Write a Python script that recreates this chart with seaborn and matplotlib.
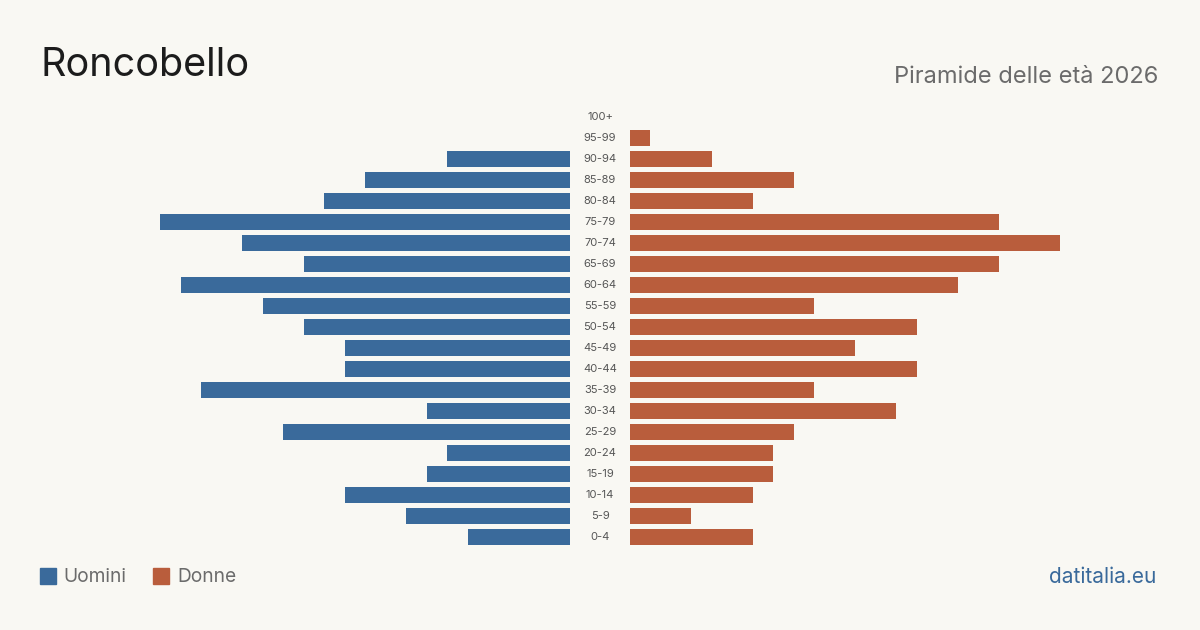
import pandas as pd
import seaborn as sns
import matplotlib.pyplot as plt

# age classes from top to bottom
eta = ['100+', '95-99', '90-94', '85-89', '80-84', '75-79', '70-74', '65-69', '60-64',
       '55-59', '50-54', '45-49', '40-44', '35-39', '30-34', '25-29', '20-24', '15-19',
       '10-14', '5-9', '0-4']
uomini = [0, 0, 6, 10, 12, 20, 16, 13, 19, 15, 13, 11, 11, 18, 7, 14, 6, 7, 11, 8, 5]
donne = [0, 1, 4, 8, 6, 18, 21, 18, 16, 9, 14, 11, 14, 9, 13, 8, 7, 7, 6, 3, 6]

df = pd.DataFrame({'Eta': eta, 'Uomini': uomini, 'Donne': donne})

bg = '#f9f8f3'
blue = '#3a6a9b'
orange = '#b95d3c'

sns.set_theme(style='white')
plt.rcParams['font.family'] = ['Inter', 'DejaVu Sans']

fig = plt.figure(figsize=(12, 6.3), dpi=100, facecolor=bg)

# two half-axes, same scale
ax_l = fig.add_axes([140 / 1200, 0.131, 430 / 1200, 0.70])
ax_r = fig.add_axes([630 / 1200, 0.131, 430 / 1200, 0.70])

sns.barplot(data=df, y='Eta', x='Uomini', orient='h', color=blue, width=0.8,
            saturation=1, linewidth=0, ax=ax_l)
sns.barplot(data=df, y='Eta', x='Donne', orient='h', color=orange, width=0.8,
            saturation=1, linewidth=0, ax=ax_r)

xmax = 21
ax_l.set_xlim(xmax, 0)
ax_r.set_xlim(0, xmax)
for ax in (ax_l, ax_r):
    ax.set_facecolor(bg)
    ax.set_ylim(len(eta) - 0.5, -0.5)
    ax.set_xlabel('')
    ax.set_ylabel('')
    ax.set_xticks([])
    ax.set_yticks([])
    sns.despine(ax=ax, left=True, bottom=True)

# age labels in the gap between the two sides
for i, lab in enumerate(eta):
    ax_r.text(-0.5 * 60 / 430 * xmax, i, lab, ha='center', va='center',
              fontsize=8, color='#555555', clip_on=False)

fig.text(40 / 1200, 1 - 66 / 630, 'Roncobello', fontsize=28.5, color='#1c1c1c',
         ha='left', va='center')
fig.text(1158 / 1200, 1 - 77 / 630, 'Piramide delle età 2026', fontsize=17,
         color='#6b6b6b', ha='right', va='center')

# legend
fig.patches.append(plt.Rectangle((40 / 1200, 1 - 584 / 630), 16 / 1200, 16 / 630,
                                 color=blue, transform=fig.transFigure))
fig.text(63 / 1200, 1 - 577 / 630, 'Uomini', fontsize=13.8, color='#6b6b6b',
         ha='left', va='center')
fig.patches.append(plt.Rectangle((153 / 1200, 1 - 584 / 630), 16 / 1200, 16 / 630,
                                 color=orange, transform=fig.transFigure))
fig.text(177 / 1200, 1 - 577 / 630, 'Donne', fontsize=13.8, color='#6b6b6b',
         ha='left', va='center')

fig.text(1156 / 1200, 1 - 577 / 630, 'datitalia.eu', fontsize=15, color=blue,
         ha='right', va='center')

fig.savefig('out.png', dpi=100, facecolor=bg)
